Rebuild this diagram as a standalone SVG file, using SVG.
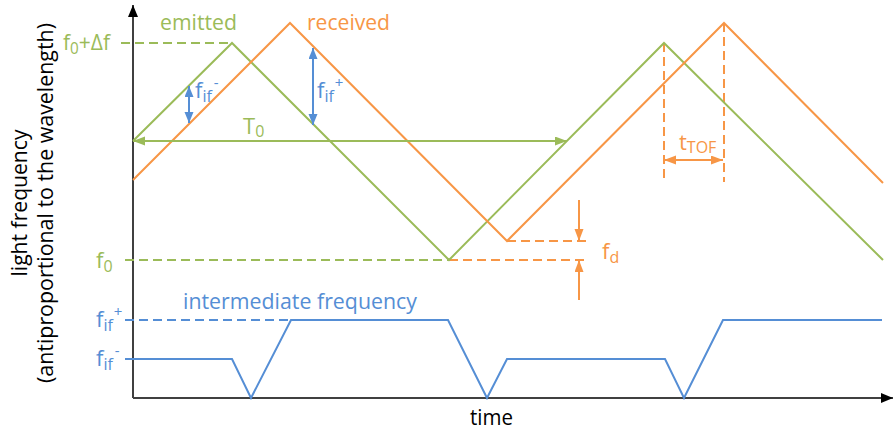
<svg xmlns="http://www.w3.org/2000/svg" width="893" height="435" viewBox="0 0 893 435">
<style>
text{font-family:"Open Sans","Liberation Sans",sans-serif;font-size:22px}
.g{fill:#9BBB59}.o{fill:#F79646}.b{fill:#558ED5}.k{fill:#000}
.lg{stroke:#9BBB59;stroke-width:2;fill:none}
.lo{stroke:#F79646;stroke-width:2;fill:none}
.lb{stroke:#558ED5;stroke-width:2;fill:none}
.d{stroke-dasharray:9 5}
.ax{stroke:#404040;stroke-width:2;fill:none}
.sub{font-size:16px}
.sup{font-size:15px}
.sm{font-size:21px}
</style>
<defs>
<marker id="ak" markerUnits="userSpaceOnUse" markerWidth="12" markerHeight="12" refX="12" refY="5" orient="auto"><path d="M0,0 L12,5 L0,10 z" fill="#000"/></marker>
<marker id="ab" markerUnits="userSpaceOnUse" markerWidth="11" markerHeight="10" refX="11" refY="4.5" orient="auto-start-reverse"><path d="M0,0 L11,4.5 L0,9 z" fill="#558ED5"/></marker>
<marker id="ag" markerUnits="userSpaceOnUse" markerWidth="12" markerHeight="10" refX="12" refY="4.5" orient="auto-start-reverse"><path d="M0,0 L12,4.5 L0,9 z" fill="#9BBB59"/></marker>
<marker id="ao" markerUnits="userSpaceOnUse" markerWidth="12" markerHeight="10" refX="12" refY="4.5" orient="auto-start-reverse"><path d="M0,0 L12,4.5 L0,9 z" fill="#F79646"/></marker>
</defs>

<g id="axes">
<line class="ax" x1="133" y1="398" x2="133" y2="5" marker-end="url(#ak)"/>
<line class="ax" x1="133" y1="398" x2="893" y2="398" marker-end="url(#ak)"/>
<text class="k sm" x="470" y="425" textLength="43" lengthAdjust="spacingAndGlyphs">time</text>
<g transform="translate(27,203) rotate(-90)"><text class="k sm" x="0" y="0" text-anchor="middle" textLength="147" lengthAdjust="spacingAndGlyphs">light frequency</text></g>
<g transform="translate(53,203) rotate(-90)"><text class="k sm" x="0" y="0" text-anchor="middle" textLength="360" lengthAdjust="spacingAndGlyphs">(antiproportional to the wavelength)</text></g>
</g>

<g id="guides">
<line class="lg d" x1="121" y1="43" x2="232" y2="43"/>
<line class="lg d" x1="125" y1="260" x2="449" y2="260"/>
<line class="lo d" x1="449" y1="260" x2="587" y2="260"/>
<line class="lo d" x1="507" y1="241" x2="587" y2="241"/>
<line class="lb d" x1="125" y1="320" x2="291" y2="320"/>
<line class="lo d" x1="664" y1="43" x2="664" y2="182"/>
<line class="lo d" x1="724" y1="23" x2="724" y2="182"/>
</g>

<g id="emitted">
<polyline class="lg" points="133,141 232,43 449,260 664,43 883,260"/>
<text class="g" x="160" y="30" textLength="77" lengthAdjust="spacingAndGlyphs">emitted</text>
</g>

<g id="received">
<polyline class="lo" points="133,180 290,23 507,241 724,23 883,183"/>
<text class="o" x="307" y="30" textLength="83" lengthAdjust="spacingAndGlyphs">received</text>
</g>

<g id="intermediate">
<polyline class="lb" points="125,359 232,359 251,398 291,320 448,320 487,398 507,359 665,359 684,398 723,320 882,320"/>
<text class="b" x="183" y="309" textLength="234" lengthAdjust="spacingAndGlyphs">intermediate frequency</text>
</g>

<g id="labels">
<text class="g" x="63" y="50" textLength="47" lengthAdjust="spacingAndGlyphs">f<tspan class="sub" dy="4">0</tspan><tspan dy="-4">+Δf</tspan></text>
<text class="g" x="96" y="268">f<tspan class="sub" dy="4">0</tspan></text>
<text class="b" x="96" y="327">f<tspan class="sub" dy="4">if</tspan><tspan class="sup" dx="1" dy="-14">+</tspan></text>
<text class="b" x="96" y="366">f<tspan class="sub" dy="4">if</tspan><tspan class="sup" dx="2" dy="-14">-</tspan></text>
<text class="g" x="243" y="134">T<tspan class="sub" dy="3">0</tspan></text>
<text class="b" x="195" y="98">f<tspan class="sub" dy="4">if</tspan><tspan class="sup" dx="2" dy="-14">-</tspan></text>
<text class="b" x="317" y="98">f<tspan class="sub" dy="4">if</tspan><tspan class="sup" dx="1" dy="-14">+</tspan></text>
<text class="o" x="679" y="150">t<tspan class="sub" dy="3">TOF</tspan></text>
<text class="o" x="602" y="259">f<tspan class="sub" dy="4">d</tspan></text>
</g>

<g id="connectors">
<line class="lb" x1="189" y1="86" x2="189" y2="123" marker-start="url(#ab)" marker-end="url(#ab)"/>
<line class="lb" x1="313" y1="48" x2="313" y2="125" marker-start="url(#ab)" marker-end="url(#ab)"/>
<line class="lg" x1="133" y1="141" x2="567" y2="141" marker-start="url(#ag)" marker-end="url(#ag)"/>
<line class="lo" x1="664" y1="160" x2="723" y2="160" marker-start="url(#ao)" marker-end="url(#ao)"/>
<line class="lo" x1="579" y1="200" x2="579" y2="241" marker-end="url(#ao)"/>
<line class="lo" x1="579" y1="300" x2="579" y2="260" marker-end="url(#ao)"/>
</g>
</svg>
